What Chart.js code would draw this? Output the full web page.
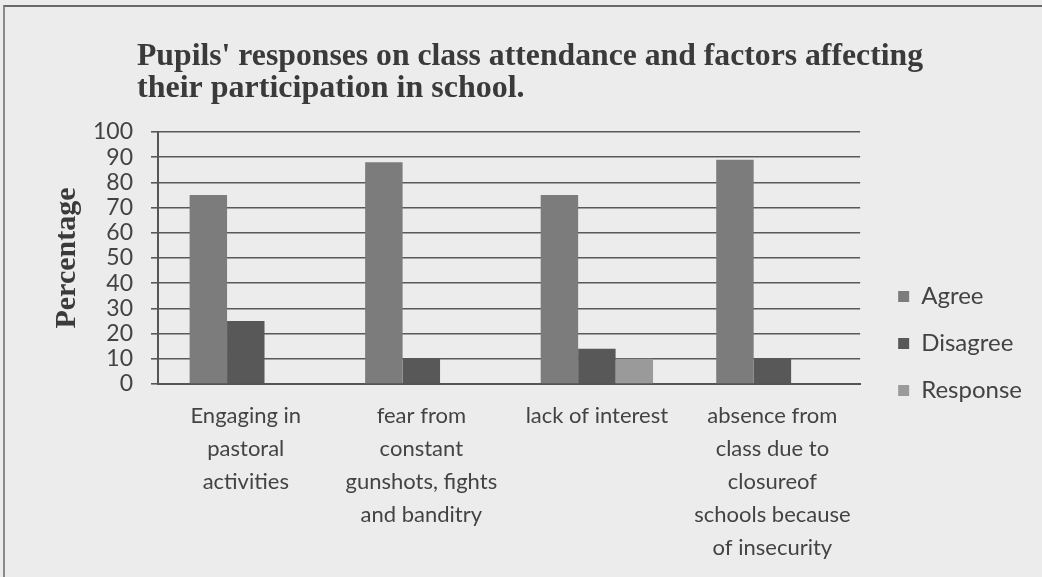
<!DOCTYPE html>
<html>
<head>
<meta charset="utf-8">
<script src="https://cdn.jsdelivr.net/npm/chart.js@4"></script>
<style>
  html, body { margin: 0; padding: 0; background: #ececec; overflow: hidden; }
  #wrap { position: absolute; left: 3px; top: 5px; width: 1039px; height: 572px;
          border-top: 2px solid #6a6a6a; border-left: 2px solid #8a8a8a; box-sizing: border-box; }
  canvas { display: block; }
</style>
</head>
<body>
<div id="wrap"><canvas id="ctx" width="1037" height="570"></canvas></div>
<script>
const categories = [
  ["Engaging in", "pastoral", "activities"],
  ["fear from", "constant", "gunshots, fights", "and banditry"],
  ["lack of interest"],
  ["absence from", "class due to", "closureof", "schools because", "of insecurity"]
];
const agree = [75, 88, 75, 89];
const disagree = [25, 10, 14, 10];
const response = [0, 0, 10, 0];
const yTicks = [0, 10, 20, 30, 40, 50, 60, 70, 80, 90, 100];

const titleLines = [
  "Pupils' responses on class attendance and factors affecting",
  "their participation in school."
];

const titlePlugin = {
  id: "leftTitle",
  afterDraw(chart) {
    const c = chart.ctx;
    c.save();
    c.fillStyle = "#3a3a3a";
    c.font = "bold 32px 'Liberation Serif'";
    c.textBaseline = "alphabetic";
    c.fillText(titleLines[0], 132, 58, 786);
    c.fillText(titleLines[1], 132, 90);
    c.restore();
  }
};

// nudge the legend block: a bit right of the plot gap, and higher up
const legendShift = {
  id: "legendShift",
  afterLayout(chart) {
    const lg = chart.legend;
    if (!lg) return;
    lg.left += 15; lg.right += 15;
    lg.top -= 12; lg.bottom -= 12;
  }
};

const textColor = "#434343";

new Chart(document.getElementById("ctx"), {
  type: "bar",
  data: {
    labels: categories,
    datasets: [
      { label: "Agree", data: agree, backgroundColor: "#7c7c7c" },
      { label: "Disagree", data: disagree, backgroundColor: "#585858" },
      { label: "Response", data: response, backgroundColor: "#9a9a9a" }
    ]
  },
  options: {
    responsive: false,
    animation: false,
    devicePixelRatio: 1,
    layout: { padding: { top: 125, left: 46, right: 25, bottom: -2 } },
    datasets: { bar: { categoryPercentage: 0.64, barPercentage: 1.0 } },
    scales: {
      x: {
        grid: { display: false, drawTicks: false },
        border: { display: true, color: "#555555", width: 2 },
        ticks: {
          color: textColor,
          font: { family: "Lato", size: 22, lineHeight: 1.5 },
          padding: 15,
          maxRotation: 0,
          autoSkip: false
        }
      },
      y: {
        min: 0,
        max: 100,
        afterBuildTicks: (axis) => { axis.ticks = yTicks.map(v => ({ value: v })); },
        grid: { color: "#595959", lineWidth: 1.6, tickLength: 7 },
        border: { display: true, color: "#555555", width: 2 },
        ticks: {
          color: textColor,
          font: { family: "Lato", size: 23, lineHeight: 1.0 },
          padding: 18,
          autoSkip: false
        },
        title: {
          display: true,
          text: "Percentage",
          color: "#3a3a3a",
          font: { family: "Liberation Serif", size: 30, weight: "bold", lineHeight: 1.1 },
          padding: { top: 0, bottom: -9 }
        }
      }
    },
    plugins: {
      title: { display: false },
      tooltip: { enabled: false },
      legend: {
        position: "right",
        align: "center",
        labels: {
          color: textColor,
          font: { family: "Lato", size: 24 },
          boxWidth: 11,
          boxHeight: 11,
          padding: 23
        }
      }
    }
  },
  plugins: [titlePlugin, legendShift]
});
</script>
</body>
</html>
